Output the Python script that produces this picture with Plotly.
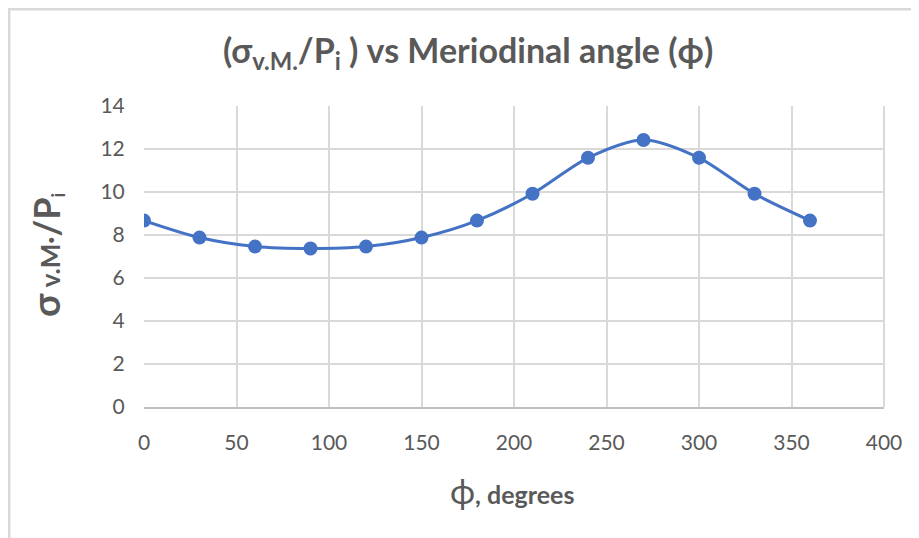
import plotly.graph_objects as go

phi_deg = [0, 30, 60, 90, 120, 150, 180, 210, 240, 270, 300, 330, 360]
stress_ratio = [8.67, 7.88, 7.46, 7.37, 7.46, 7.88, 8.67, 9.92, 11.59, 12.42, 11.59, 9.92, 8.67]

x_ticks = [0, 50, 100, 150, 200, 250, 300, 350, 400]
y_ticks = [0, 2, 4, 6, 8, 10, 12, 14]

FONT = "Lato"
GRAY = "#595959"
GRID = "#d9d9d9"

fig = go.Figure()
fig.add_trace(go.Scatter(
    x=phi_deg, y=stress_ratio, mode="lines+markers",
    line=dict(color="#4472C4", width=3, shape="spline", smoothing=0.8),
    marker=dict(color="#4472C4", size=14),
    showlegend=False,
))

# page body adds an 8px offset; work in screen coordinates and subtract it
OFF = 8
W, H = 919, 538
L, R, T, B = 144 - OFF, W - (884 - OFF), 106 - OFF, H - (407 - OFF)
pw, ph = W - L - R, H - T - B

def px(xs):
    return (xs - OFF - L) / pw

def py(ys):
    return (H - B - (ys - OFF)) / ph

fig.update_layout(
    width=W, height=H,
    margin=dict(l=L, r=R, t=T, b=B, pad=0),
    paper_bgcolor="white", plot_bgcolor="white",
    font=dict(family=FONT, color=GRAY, size=21),
    xaxis=dict(range=[0, 400], tickvals=x_ticks, showgrid=True, gridcolor=GRID, gridwidth=2,
               zeroline=False, showline=True, linecolor="#bfbfbf", linewidth=2,
               ticks="outside", ticklen=16, tickcolor="rgba(0,0,0,0)",
               tickfont=dict(size=21, color=GRAY, family=FONT)),
    yaxis=dict(range=[0, 14], tickvals=y_ticks, showgrid=True, gridcolor=GRID, gridwidth=2,
               zeroline=False, showline=False,
               ticks="outside", ticklen=14, tickcolor="rgba(0,0,0,0)",
               tickfont=dict(size=21, color=GRAY, family=FONT)),
    shapes=[
        dict(type="line", xref="paper", yref="paper", x0=px(8), x1=px(930), y0=py(9), y1=py(9),
             line=dict(color=GRID, width=3)),
        dict(type="line", xref="paper", yref="paper", x0=px(9), x1=px(9), y0=py(8), y1=py(550),
             line=dict(color=GRID, width=3)),
        dict(type="line", xref="paper", yref="paper", x0=1, x1=1, y0=0, y1=1,
             line=dict(color=GRID, width=2)),
    ],
    annotations=[
        dict(text="<b>(σ<sub>v.M.</sub>/P<sub>i</sub> ) vs Meriodinal angle (ϕ)</b>",
             xref="paper", yref="paper", x=px(468), y=py(52), showarrow=False,
             xanchor="center", yanchor="middle", font=dict(size=34, color=GRAY, family=FONT)),
        dict(text="<span style='font-size:34px'>ϕ</span><b>, degrees</b>",
             xref="paper", yref="paper", x=px(512), y=py(490), showarrow=False,
             xanchor="center", yanchor="middle", font=dict(size=25, color=GRAY, family=FONT)),
        dict(text="<b><span style='font-size:38px'>σ</span> v.M·<span style='font-size:36px'>/P</span><sub>i</sub></b>",
             xref="paper", yref="paper", x=px(45), y=py(255), showarrow=False, textangle=-90,
             xanchor="center", yanchor="middle", font=dict(size=26, color=GRAY, family=FONT)),
    ],
)

fig.write_html("out.html")
